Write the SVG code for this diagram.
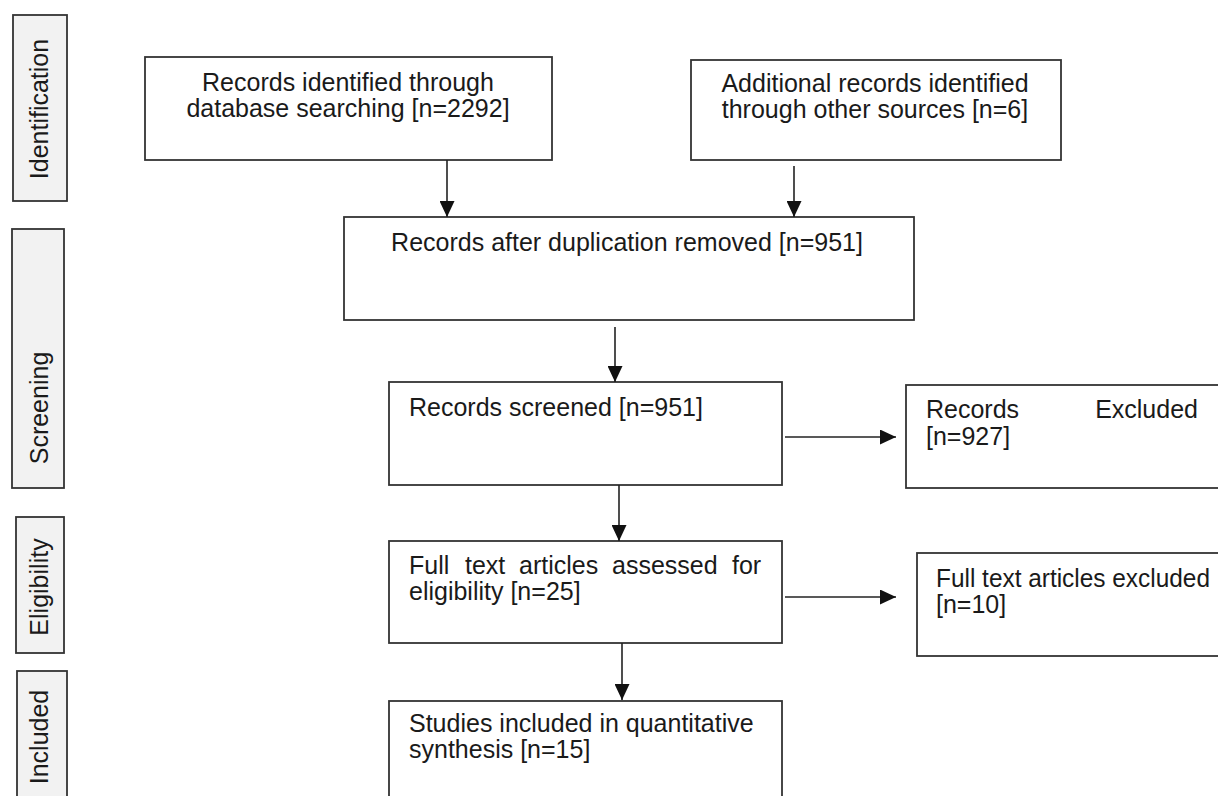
<svg xmlns="http://www.w3.org/2000/svg" width="1218" height="796" viewBox="0 0 1218 796">
<style>
.box{fill:#ffffff;stroke:#333333;stroke-width:1.8}
.side{fill:#f2f2f2;stroke:#333333;stroke-width:1.8}
.t{font-family:"Liberation Sans",Arial,sans-serif;font-size:25px;fill:#1a1a1a}
.c{text-anchor:middle}
.conn{stroke:#222222;stroke-width:1.6;fill:none}
</style>
<defs>
<marker id="ah" markerUnits="userSpaceOnUse" markerWidth="16" markerHeight="15" refX="16" refY="7.5" orient="auto">
<path d="M0,0 L16,7.5 L0,15 Z" fill="#111111"/>
</marker>
</defs>
<rect width="1218" height="796" fill="#ffffff"/>

<g id="lbl-identification">
<rect class="side" x="13" y="15" width="54" height="186"/>
<text class="t c" transform="translate(48,109) rotate(-90)">Identification</text>
</g>
<g id="lbl-screening">
<rect class="side" x="12" y="229" width="52" height="259"/>
<text class="t c" transform="translate(48,408) rotate(-90)">Screening</text>
</g>
<g id="lbl-eligibility">
<rect class="side" x="16" y="517" width="48" height="136"/>
<text class="t c" transform="translate(48,587) rotate(-90)">Eligibility</text>
</g>
<g id="lbl-included">
<rect class="side" x="17" y="671" width="50" height="140"/>
<text class="t c" transform="translate(48,737) rotate(-90)">Included</text>
</g>

<g id="n-database">
<rect class="box" x="145" y="57" width="407" height="103"/>
<text class="t c" x="348" y="91">Records identified through</text>
<text class="t c" x="348" y="117">database searching [n=2292]</text>
</g>
<g id="n-other">
<rect class="box" x="691" y="60" width="370" height="100"/>
<text class="t c" x="875" y="92">Additional records identified</text>
<text class="t c" x="875" y="118">through other sources [n=6]</text>
</g>
<g id="n-dedup">
<rect class="box" x="344" y="217" width="570" height="103"/>
<text class="t c" x="627" y="251">Records after duplication removed [n=951]</text>
</g>
<g id="n-screened">
<rect class="box" x="389" y="382" width="393" height="103"/>
<text class="t" x="409" y="416">Records screened [n=951]</text>
</g>
<g id="n-excluded">
<rect class="box" x="906" y="385" width="330" height="103"/>
<text class="t" y="418"><tspan x="926">Records</tspan><tspan x="1198" text-anchor="end">Excluded</tspan></text>
<text class="t" x="926" y="445">[n=927]</text>
</g>
<g id="n-fulltext">
<rect class="box" x="389" y="541" width="393" height="102"/>
<text class="t" y="574"><tspan x="409">Full</tspan><tspan x="465">text</tspan><tspan x="519">articles</tspan><tspan x="612">assessed</tspan><tspan x="732">for</tspan></text>
<text class="t" x="409" y="600">eligibility [n=25]</text>
</g>
<g id="n-ftexcluded">
<rect class="box" x="917" y="553" width="320" height="103"/>
<text class="t" x="936" y="587" textLength="274" lengthAdjust="spacingAndGlyphs">Full text articles excluded</text>
<text class="t" x="936" y="613">[n=10]</text>
</g>
<g id="n-included">
<rect class="box" x="389" y="701" width="393" height="120"/>
<text class="t" x="409" y="732">Studies included in quantitative</text>
<text class="t" x="409" y="758">synthesis [n=15]</text>
</g>

<g id="connectors">
<line class="conn" x1="447" y1="160" x2="447" y2="217" marker-end="url(#ah)"/>
<line class="conn" x1="794" y1="166" x2="794" y2="217" marker-end="url(#ah)"/>
<line class="conn" x1="615" y1="327" x2="615" y2="382" marker-end="url(#ah)"/>
<line class="conn" x1="785" y1="437" x2="896" y2="437" marker-end="url(#ah)"/>
<line class="conn" x1="619" y1="485" x2="619" y2="541" marker-end="url(#ah)"/>
<line class="conn" x1="785" y1="597" x2="896" y2="597" marker-end="url(#ah)"/>
<line class="conn" x1="622" y1="643" x2="622" y2="700" marker-end="url(#ah)"/>
</g>
</svg>
